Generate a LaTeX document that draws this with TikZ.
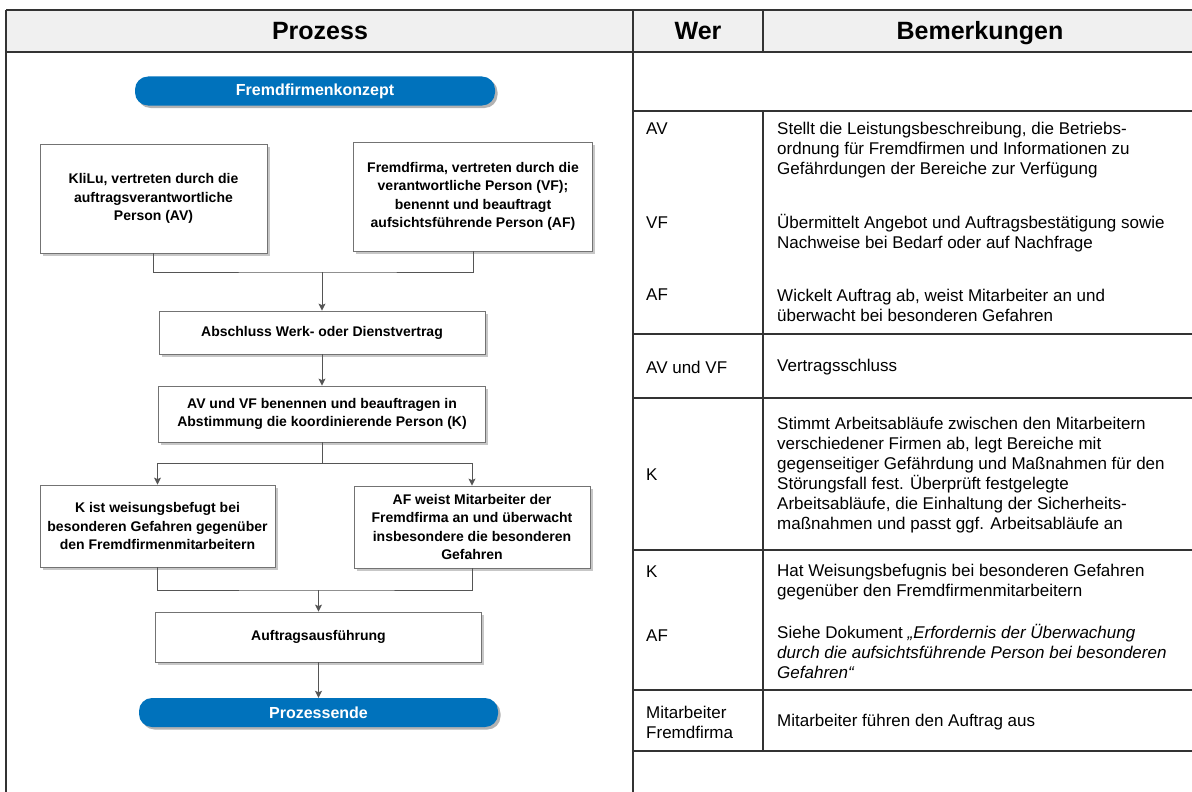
\documentclass[tikz,border=0pt]{standalone}
\usepackage{fontspec}
\setmainfont{Liberation Sans}
\usetikzlibrary{arrows.meta,shadows}

\definecolor{pillblue}{RGB}{0,114,188}
\definecolor{hdrgray}{RGB}{240,240,240}
\definecolor{linegray}{RGB}{85,85,85}

\begin{document}
\begin{tikzpicture}[x=1pt,y=-1pt,
    every node/.style={inner sep=0pt},
    box/.style={draw=black!55, fill=white, line width=0.8pt, align=center,
        font=\bfseries\fontsize{14}{18.5}\selectfont,
        drop shadow={shadow xshift=2.5pt,shadow yshift=-2.5pt,fill=black!22,opacity=1}},
    pill/.style={fill=pillblue, rounded corners=13pt, text=white, minimum height=29pt,
        drop shadow={shadow xshift=2.5pt,shadow yshift=-2.5pt,fill=black!30,opacity=1}},
    flow/.style={draw=linegray, line width=1pt},
    arr/.style={flow, -{Stealth[length=7pt,width=7pt,inset=1.5pt]}},
    tabline/.style={draw=black!80, line width=1.1pt},
    cell/.style={anchor=west, align=left, font=\fontsize{17}{20}\selectfont},
    hdr/.style={anchor=base, font=\bfseries\fontsize{25}{30}\selectfont}]
        \useasboundingbox (0,0) rectangle (1192,792);
        \fill[white] (0,0) rectangle (1192,792);

        \fill[hdrgray] (6,10) rectangle (1192,52);
        \draw[tabline] (6,10) -- (1192,10);
        \draw[tabline] (6,52) -- (1192,52);
        \draw[tabline] (6,10) -- (6,792);
        \draw[tabline] (633,10) -- (633,792);
        \draw[tabline] (763,10) -- (763,52);
        \draw[tabline] (763,111) -- (763,751);
        \foreach \yy in {111,334,398,550,690,751}
            \draw[tabline] (633,\yy) -- (1192,\yy);

        \node[hdr] (hdrproz) at (320,40) {Prozess};
        \node[hdr] (hdrwer) at (698,40) {Wer};
        \node[hdr] (hdrbem) at (980,40) {Bemerkungen};

        \node[pill, minimum width=360pt, font=\bfseries\fontsize{16}{19}\selectfont] (start) at (315,91) {Fremdfirmenkonzept};
        \node[box, minimum width=227pt, minimum height=109pt] (kli) at (153.5,198.5)
            {KliLu, vertreten durch die\\auftragsverantwortliche\\Person (AV)};
        \node[box, minimum width=239pt, minimum height=109pt] (fremd) at (473,196.5)
            {Fremdfirma, vertreten durch die\\verantwortliche Person (VF);\\benennt und beauftragt\\aufsichtsführende Person (AF)};
        \node[box, minimum width=326pt, minimum height=43pt] (vertrag) at (322,332.5)
            {Abschluss Werk- oder Dienstvertrag};
        \node[box, minimum width=327pt, minimum height=56pt] (koord) at (322,414)
            {AV und VF benennen und beauftragen in\\Abstimmung die koordinierende Person (K)};
        \node[box, minimum width=235pt, minimum height=82pt] (kweis) at (157.5,526)
            {K ist weisungsbefugt bei\\besonderen Gefahren gegenüber\\den Fremdfirmenmitarbeitern};
        \node[box, minimum width=236pt, minimum height=82pt] (afweis) at (472,527)
            {AF weist Mitarbeiter der\\Fremdfirma an und überwacht\\insbesondere die besonderen\\Gefahren};
        \node[box, minimum width=326pt, minimum height=50pt] (ausf) at (318.5,637)
            {Auftragsausführung};
        \node[pill, minimum width=359pt, font=\bfseries\fontsize{16}{19}\selectfont] (ende) at (318.5,712.5) {Prozessende};

        \coordinate (j1) at (322,272);
        \coordinate (j2) at (322,463);
        \coordinate (j3) at (318.5,590);
        \draw[flow] (kli.south) |- (j1) -| (fremd.south);
        \draw[arr] (j1) -- (vertrag.north);
        \draw[arr] (vertrag.south) -- (koord.north);
        \draw[flow] (koord.south) -- (j2);
        \draw[arr] (j2) -| (kweis.north);
        \draw[arr] (j2) -| (afweis.north);
        \draw[flow] (kweis.south) |- (j3) -| (afweis.south);
        \draw[arr] (j3) -- (ausf.north);
        \draw[arr] (ausf.south) -- (ende.north);

        \node[cell] (werav) at (646,129) {AV};
        \node[cell] (bemav) at (777,150)
            {Stellt die Leistungsbeschreibung, die Betriebs-\\ordnung für Fremdfirmen und Informationen zu\\Gefährdungen der Bereiche zur Verfügung};
        \node[cell] (wervf) at (646,223) {VF};
        \node[cell] (bemvf) at (777,233)
            {Übermittelt Angebot und Auftragsbestätigung sowie\\Nachweise bei Bedarf oder auf Nachfrage};
        \node[cell] (weraf) at (646,295) {AF};
        \node[cell] (bemaf) at (777,305)
            {Wickelt Auftrag ab, weist Mitarbeiter an und\\überwacht bei besonderen Gefahren};
        \node[cell] (weravvf) at (646,367) {AV und VF};
        \node[cell] (bemavvf) at (777,367) {Vertragsschluss};
        \node[cell] (werk) at (646,475) {K};
        \node[cell] (bemk) at (777,475)
            {Stimmt Arbeitsabläufe zwischen den Mitarbeitern\\verschiedener Firmen ab, legt Bereiche mit\\gegenseitiger Gefährdung und Maßnahmen für den\\Störungsfall fest. Überprüft festgelegte\\Arbeitsabläufe, die Einhaltung der Sicherheits-\\maßnahmen und passt ggf. Arbeitsabläufe an};
        \node[cell] (werkweis) at (646,572) {K};
        \node[cell] (bemkweis) at (777,582)
            {Hat Weisungsbefugnis bei besonderen Gefahren\\gegenüber den Fremdfirmenmitarbeitern};
        \node[cell] (werafweis) at (646,636) {AF};
        \node[cell] (bemafweis) at (777,651)
            {Siehe Dokument \textit{„Erfordernis der Überwachung}\\\textit{durch die aufsichtsführende Person bei besonderen}\\\textit{Gefahren“}};
        \node[cell] (wermit) at (646,722) {Mitarbeiter\\Fremdfirma};
        \node[cell] (bemmit) at (777,722) {Mitarbeiter führen den Auftrag aus};

    \end{tikzpicture}
\end{document}
